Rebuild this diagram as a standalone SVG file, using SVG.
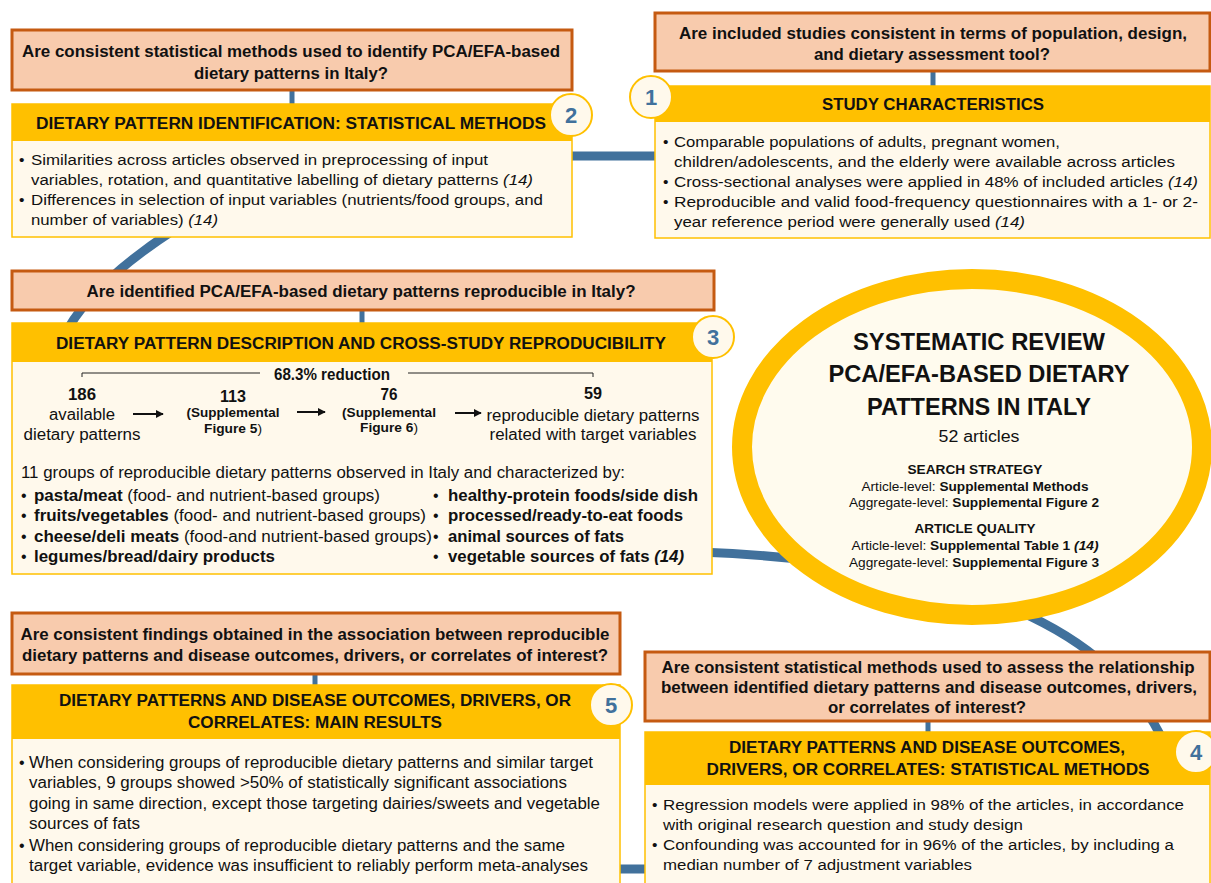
<svg xmlns="http://www.w3.org/2000/svg" width="1211" height="883" viewBox="0 0 1211 883">
<defs>
<style>
text{font-family:"Liberation Sans",Arial,sans-serif;fill:#111;}
.q{fill:#F8CBAD;stroke:#C55A11;stroke-width:3;}
.hd{fill:#FFC000;}
.bd{fill:#FFF9EC;stroke:#FFC000;stroke-width:1.5;}
.qt{font-size:16px;font-weight:bold;text-anchor:middle;}
.qc{font-size:16px;font-weight:bold;text-anchor:middle;}
.ht{font-size:16px;font-weight:bold;text-anchor:middle;}
.bt{font-size:15.5px;}
.bc{font-size:16px;}
.mid{text-anchor:middle;}
.bdg{fill:#FFF9EC;stroke:#FFC000;stroke-width:2;}
.bn{font-size:22px;font-weight:bold;fill:#41719C;text-anchor:middle;}
.ring{fill:none;stroke:#41719C;stroke-width:9;}
.stem{stroke:#41719C;stroke-width:5;}
.b{font-weight:bold;}
.i{font-style:italic;}
.et{font-size:23px;font-weight:bold;text-anchor:middle;}
.es{font-size:13px;text-anchor:middle;}
.arr{stroke:#111;stroke-width:2;marker-end:url(#ah);}
.brk{fill:none;stroke:#222;stroke-width:1;}
</style>
<marker id="ah" viewBox="0 0 10 10" refX="9" refY="5" markerWidth="4" markerHeight="4" orient="auto" markerUnits="strokeWidth">
<path d="M0,0 L10,5 L0,10 Z" fill="#111"/>
</marker>
</defs>
<rect width="1211" height="883" fill="#FFFFFF"/>

<g id="connectors">
<path class="ring" d="M 560,156 H 668"/>
<path class="ring" d="M 215,205 Q 92,275 62,340"/>
<path class="ring" d="M 700,552 C 900,560 1100,600 1165,745"/>
<path class="ring" d="M 600,869 H 660"/>
<line class="stem" x1="292" y1="90" x2="292" y2="104"/>
<line class="stem" x1="933" y1="71" x2="933" y2="87"/>
<line class="stem" x1="362" y1="310" x2="362" y2="324"/>
<line class="stem" x1="315" y1="675" x2="315" y2="685"/>
<line class="stem" x1="928" y1="722" x2="928" y2="732"/>
</g>

<g id="q-study">
<rect class="q" x="655" y="13" width="555" height="58"/>
<text class="qt" x="933" y="39" textLength="508" lengthAdjust="spacingAndGlyphs">Are included studies consistent in terms of population, design,</text>
<text class="qt" x="932" y="60" textLength="236" lengthAdjust="spacingAndGlyphs">and dietary assessment tool?</text>
</g>

<g id="n1-study">
<rect class="bd" x="655" y="86" width="555" height="152"/>
<rect class="hd" x="655" y="86" width="555" height="36"/>
<text class="ht" x="933" y="110" textLength="222" lengthAdjust="spacingAndGlyphs">STUDY CHARACTERISTICS</text>
<text class="bt" x="663" y="147">•</text>
<text class="bt" x="674" y="147" textLength="386" lengthAdjust="spacingAndGlyphs">Comparable populations of adults, pregnant women,</text>
<text class="bt" x="674" y="167" textLength="501" lengthAdjust="spacingAndGlyphs">children/adolescents, and the elderly were available across articles</text>
<text class="bt" x="663" y="187">•</text>
<text class="bt" x="674" y="187" textLength="524" lengthAdjust="spacingAndGlyphs">Cross-sectional analyses were applied in 48% of included articles <tspan class="i">(14)</tspan></text>
<text class="bt" x="663" y="207">•</text>
<text class="bt" x="674" y="207" textLength="524" lengthAdjust="spacingAndGlyphs">Reproducible and valid food-frequency questionnaires with a 1- or 2-</text>
<text class="bt" x="674" y="227" textLength="351" lengthAdjust="spacingAndGlyphs">year reference period were generally used <tspan class="i">(14)</tspan></text>
<circle class="bdg" cx="651" cy="97" r="21"/>
<text class="bn" x="651" y="105">1</text>
</g>

<g id="q-methods">
<rect class="q" x="12" y="30" width="560" height="60"/>
<text class="qt" x="291" y="57" textLength="538" lengthAdjust="spacingAndGlyphs">Are consistent statistical methods used to identify PCA/EFA-based</text>
<text class="qt" x="291" y="79" textLength="194" lengthAdjust="spacingAndGlyphs">dietary patterns in Italy?</text>
</g>

<g id="n2-methods">
<rect class="bd" x="12" y="104" width="560" height="133"/>
<rect class="hd" x="12" y="104" width="560" height="37"/>
<text class="ht" x="291" y="129" textLength="510" lengthAdjust="spacingAndGlyphs">DIETARY PATTERN IDENTIFICATION: STATISTICAL METHODS</text>
<text class="bt" x="19" y="165">•</text>
<text class="bt" x="31" y="165" textLength="457" lengthAdjust="spacingAndGlyphs">Similarities across articles observed in preprocessing of input</text>
<text class="bt" x="31" y="185" textLength="502" lengthAdjust="spacingAndGlyphs">variables, rotation, and quantitative labelling of dietary patterns <tspan class="i">(14)</tspan></text>
<text class="bt" x="19" y="205">•</text>
<text class="bt" x="31" y="205" textLength="512" lengthAdjust="spacingAndGlyphs">Differences in selection of input variables (nutrients/food groups, and</text>
<text class="bt" x="31" y="225" textLength="187" lengthAdjust="spacingAndGlyphs">number of variables) <tspan class="i">(14)</tspan></text>
<circle class="bdg" cx="571" cy="115" r="21"/>
<text class="bn" x="571" y="123">2</text>
</g>

<g id="q-repro">
<rect class="q" x="12" y="271" width="702" height="39"/>
<text class="qc" x="361" y="297" textLength="549" lengthAdjust="spacingAndGlyphs">Are identified PCA/EFA-based dietary patterns reproducible in Italy?</text>
</g>

<g id="n3-repro">
<rect class="bd" x="12" y="323" width="700" height="251"/>
<rect class="hd" x="12" y="323" width="700" height="39"/>
<text class="qc" x="361" y="349" textLength="610" lengthAdjust="spacingAndGlyphs">DIETARY PATTERN DESCRIPTION AND CROSS-STUDY REPRODUCIBILITY</text>
<path class="brk" d="M82,377 V373 H260"/>
<path class="brk" d="M408,373 H593 V377"/>
<text class="bc b mid" x="332" y="380" textLength="116" lengthAdjust="spacingAndGlyphs">68.3% reduction</text>
<text class="bc b mid" x="82" y="400" textLength="28" lengthAdjust="spacingAndGlyphs">186</text>
<text class="bc mid" x="82" y="420" textLength="66" lengthAdjust="spacingAndGlyphs">available</text>
<text class="bc mid" x="82" y="440" textLength="117" lengthAdjust="spacingAndGlyphs">dietary patterns</text>
<line class="arr" x1="133" y1="414" x2="163" y2="414"/>
<text class="bc b mid" x="233" y="402" font-size="14" textLength="26" lengthAdjust="spacingAndGlyphs">113</text>
<text class="b mid" x="233" y="417" font-size="13" textLength="93" lengthAdjust="spacingAndGlyphs">(Supplemental</text>
<text class="mid" x="233" y="433" font-size="13" textLength="58" lengthAdjust="spacingAndGlyphs"><tspan class="b">Figure 5</tspan>)</text>
<line class="arr" x1="297" y1="412" x2="325" y2="412"/>
<text class="bc b mid" x="389" y="400" font-size="14" textLength="17" lengthAdjust="spacingAndGlyphs">76</text>
<text class="b mid" x="389" y="417" font-size="13" textLength="94" lengthAdjust="spacingAndGlyphs">(Supplemental</text>
<text class="mid" x="389" y="432" font-size="13" textLength="58" lengthAdjust="spacingAndGlyphs"><tspan class="b">Figure 6</tspan>)</text>
<line class="arr" x1="455" y1="413" x2="481" y2="413"/>
<text class="bc b mid" x="593" y="399" textLength="18" lengthAdjust="spacingAndGlyphs">59</text>
<text class="bc mid" x="593" y="421" textLength="213" lengthAdjust="spacingAndGlyphs">reproducible dietary patterns</text>
<text class="bc mid" x="593" y="440" textLength="207" lengthAdjust="spacingAndGlyphs">related with target variables</text>
<text class="bc" x="21" y="478" textLength="604" lengthAdjust="spacingAndGlyphs">11 groups of reproducible dietary patterns observed in Italy and characterized by:</text>
<text class="bc" x="21" y="501">•</text>
<text class="bc" x="34" y="501" textLength="346" lengthAdjust="spacingAndGlyphs"><tspan class="b">pasta/meat</tspan> (food- and nutrient-based groups)</text>
<text class="bc" x="21" y="521">•</text>
<text class="bc" x="34" y="521" textLength="392" lengthAdjust="spacingAndGlyphs"><tspan class="b">fruits/vegetables</tspan> (food- and nutrient-based groups)</text>
<text class="bc" x="21" y="542">•</text>
<text class="bc" x="34" y="542" textLength="398" lengthAdjust="spacingAndGlyphs"><tspan class="b">cheese/deli meats</tspan> (food-and nutrient-based groups)</text>
<text class="bc" x="21" y="562">•</text>
<text class="bc b" x="34" y="562" textLength="241" lengthAdjust="spacingAndGlyphs">legumes/bread/dairy products</text>
<text class="bc" x="433" y="501">•</text>
<text class="bc b" x="448" y="501" textLength="250" lengthAdjust="spacingAndGlyphs">healthy-protein foods/side dish</text>
<text class="bc" x="433" y="521">•</text>
<text class="bc b" x="448" y="521" textLength="235" lengthAdjust="spacingAndGlyphs">processed/ready-to-eat foods</text>
<text class="bc" x="433" y="542">•</text>
<text class="bc b" x="448" y="542" textLength="176" lengthAdjust="spacingAndGlyphs">animal sources of fats</text>
<text class="bc" x="433" y="562">•</text>
<text class="bc b" x="448" y="562" textLength="236" lengthAdjust="spacingAndGlyphs">vegetable sources of fats <tspan class="i">(14)</tspan></text>
<circle class="bdg" cx="713" cy="337" r="21"/>
<text class="bn" x="713" y="345">3</text>
</g>

<g id="center-review">
<ellipse cx="972" cy="447" rx="230" ry="168" fill="#FFFBEE" stroke="#FFC000" stroke-width="20"/>
<text class="et" x="979" y="350" textLength="252" lengthAdjust="spacingAndGlyphs">SYSTEMATIC REVIEW</text>
<text class="et" x="979" y="382" textLength="301" lengthAdjust="spacingAndGlyphs">PCA/EFA-BASED DIETARY</text>
<text class="et" x="979" y="415" textLength="224" lengthAdjust="spacingAndGlyphs">PATTERNS IN ITALY</text>
<text class="mid" x="979" y="442" font-size="16" textLength="81" lengthAdjust="spacingAndGlyphs">52 articles</text>
<text class="es b" x="975" y="474" textLength="135" lengthAdjust="spacingAndGlyphs">SEARCH STRATEGY</text>
<text class="es" x="975" y="491" textLength="227" lengthAdjust="spacingAndGlyphs">Article-level: <tspan class="b">Supplemental Methods</tspan></text>
<text class="es" x="974" y="507" textLength="250" lengthAdjust="spacingAndGlyphs">Aggregate-level: <tspan class="b">Supplemental Figure 2</tspan></text>
<text class="es b" x="975" y="533" textLength="121" lengthAdjust="spacingAndGlyphs">ARTICLE QUALITY</text>
<text class="es" x="975" y="550" textLength="247" lengthAdjust="spacingAndGlyphs">Article-level: <tspan class="b">Supplemental Table 1 </tspan><tspan class="b i">(14)</tspan></text>
<text class="es" x="974" y="567" textLength="250" lengthAdjust="spacingAndGlyphs">Aggregate-level: <tspan class="b">Supplemental Figure 3</tspan></text>
</g>

<g id="q-results">
<rect class="q" x="12" y="613" width="608" height="61"/>
<text class="qc" x="315" y="640" textLength="589" lengthAdjust="spacingAndGlyphs">Are consistent findings obtained in the association between reproducible</text>
<text class="qc" x="315" y="661" textLength="586" lengthAdjust="spacingAndGlyphs">dietary patterns and disease outcomes, drivers, or correlates of interest?</text>
</g>

<g id="n5-results">
<rect class="bd" x="12" y="685" width="608" height="210"/>
<rect class="hd" x="12" y="685" width="608" height="54"/>
<text class="qc" x="315" y="706" textLength="512" lengthAdjust="spacingAndGlyphs">DIETARY PATTERNS AND DISEASE OUTCOMES, DRIVERS, OR</text>
<text class="qc" x="315" y="728" textLength="254" lengthAdjust="spacingAndGlyphs">CORRELATES: MAIN RESULTS</text>
<text class="bc" x="19" y="768">•</text>
<text class="bc" x="29" y="768" textLength="564" lengthAdjust="spacingAndGlyphs">When considering groups of reproducible dietary patterns and similar target</text>
<text class="bc" x="29" y="788" textLength="538" lengthAdjust="spacingAndGlyphs">variables, 9 groups showed &gt;50% of statistically significant associations</text>
<text class="bc" x="29" y="809" textLength="571" lengthAdjust="spacingAndGlyphs">going in same direction, except those targeting dairies/sweets and vegetable</text>
<text class="bc" x="29" y="829" textLength="111" lengthAdjust="spacingAndGlyphs">sources of fats</text>
<text class="bc" x="19" y="851">•</text>
<text class="bc" x="29" y="851" textLength="536" lengthAdjust="spacingAndGlyphs">When considering groups of reproducible dietary patterns and the same</text>
<text class="bc" x="29" y="871" textLength="559" lengthAdjust="spacingAndGlyphs">target variable, evidence was insufficient to reliably perform meta-analyses</text>
<circle class="bdg" cx="611" cy="705" r="21"/>
<text class="bn" x="611" y="713">5</text>
</g>

<g id="q-assoc">
<rect class="q" x="645" y="652" width="565" height="69"/>
<text class="qt" x="928" y="673" textLength="533" lengthAdjust="spacingAndGlyphs">Are consistent statistical methods used to assess the relationship</text>
<text class="qt" x="929" y="693" textLength="536" lengthAdjust="spacingAndGlyphs">between identified dietary patterns and disease outcomes, drivers,</text>
<text class="qt" x="927" y="713" textLength="198" lengthAdjust="spacingAndGlyphs">or correlates of interest?</text>
</g>

<g id="n4-assoc">
<rect class="bd" x="645" y="732" width="565" height="163"/>
<rect class="hd" x="645" y="732" width="565" height="53"/>
<text class="ht" x="927" y="753" textLength="396" lengthAdjust="spacingAndGlyphs">DIETARY PATTERNS AND DISEASE OUTCOMES,</text>
<text class="ht" x="928" y="775" textLength="443" lengthAdjust="spacingAndGlyphs">DRIVERS, OR CORRELATES: STATISTICAL METHODS</text>
<text class="bt" x="652" y="810">•</text>
<text class="bt" x="663" y="810" textLength="521" lengthAdjust="spacingAndGlyphs">Regression models were applied in 98% of the articles, in accordance</text>
<text class="bt" x="663" y="830" textLength="360" lengthAdjust="spacingAndGlyphs">with original research question and study design</text>
<text class="bt" x="652" y="850">•</text>
<text class="bt" x="663" y="850" textLength="511" lengthAdjust="spacingAndGlyphs">Confounding was accounted for in 96% of the articles, by including a</text>
<text class="bt" x="663" y="870" textLength="309" lengthAdjust="spacingAndGlyphs">median number of 7 adjustment variables</text>
<circle class="bdg" cx="1196" cy="752" r="21"/>
<text class="bn" x="1196" y="760">4</text>
</g>
</svg>
